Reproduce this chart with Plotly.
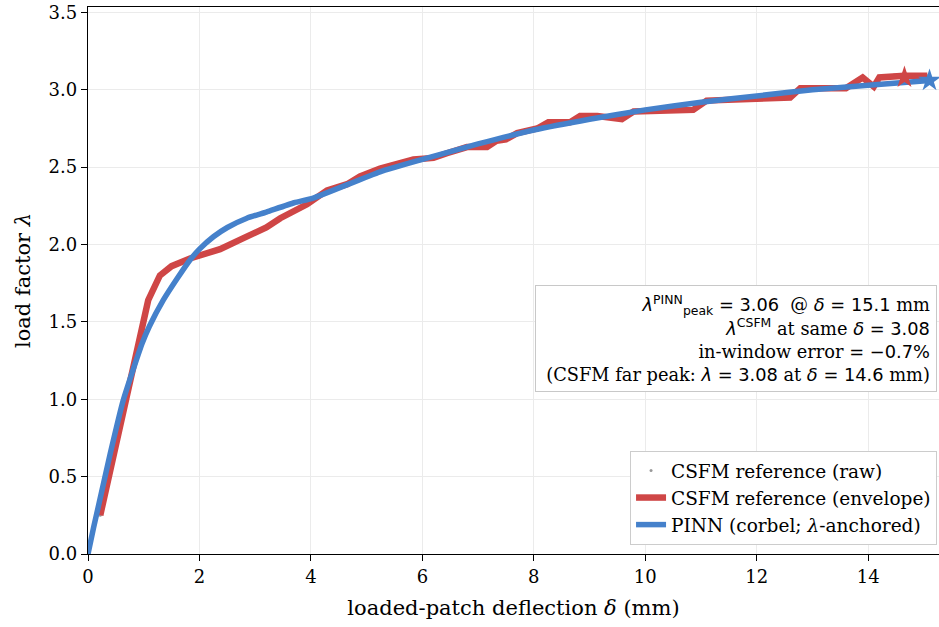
import plotly.graph_objects as go

# CSFM reference envelope (deflection mm, load factor)
csfm_x = [0.22, 0.75, 1.08, 1.29, 1.5, 1.83, 2.37, 2.78, 3.2, 3.45, 3.93, 4.29, 4.65, 4.88, 5.24,
          5.84, 6.2, 6.44, 6.68, 6.8, 7.16, 7.33, 7.5, 7.7, 8.06, 8.26, 8.65, 8.83, 9.14, 9.58,
          9.79, 10.86, 11.1, 12.6, 12.78, 13.6, 13.9, 14.1, 14.2, 14.5, 14.65, 15.06]
csfm_y = [0.25, 1.08, 1.64, 1.80, 1.86, 1.91, 1.97, 2.04, 2.11, 2.17, 2.26, 2.35, 2.39, 2.44, 2.49,
          2.55, 2.56, 2.59, 2.61, 2.63, 2.63, 2.67, 2.68, 2.72, 2.75, 2.79, 2.79, 2.83, 2.83, 2.81,
          2.86, 2.87, 2.93, 2.95, 3.01, 3.01, 3.08, 3.02, 3.08, 3.09, 3.09, 3.09]

# PINN curve
pinn_x = [0, 0.1, 0.2, 0.4, 0.63, 0.97, 1.1, 1.35, 1.6, 1.83, 2.0, 2.25, 2.5, 2.85, 3.2, 3.7,
          4.04, 5.24, 6, 7, 8, 9, 10, 11, 12, 13, 14, 15.1]
pinn_y = [0, 0.17, 0.33, 0.65, 0.99, 1.36, 1.47, 1.64, 1.78, 1.90, 1.97, 2.05, 2.11, 2.17, 2.21,
          2.27, 2.30, 2.47, 2.55, 2.65, 2.74, 2.81, 2.87, 2.92, 2.96, 3.0, 3.03, 3.06]

# peaks
csfm_peak = (14.65, 3.08)
pinn_peak = (15.1, 3.06)

RED = "#cf4646"
BLUE = "#4581cb"
SERIF = "DejaVu Serif"
SANS = "DejaVu Sans"

fig = go.Figure()
fig.add_trace(go.Scatter(x=csfm_x, y=csfm_y, mode="markers", name="CSFM reference (raw)",
                         marker=dict(color="#999999", size=3)))
fig.add_trace(go.Scatter(x=csfm_x, y=csfm_y, mode="lines", name="CSFM reference (envelope)",
                         line=dict(color=RED, width=6.5)))
fig.add_trace(go.Scatter(x=pinn_x, y=pinn_y, mode="lines", name="PINN (corbel; <i>λ</i>-anchored)",
                         line=dict(color=BLUE, width=5.5, shape="spline", smoothing=0.5)))
fig.add_trace(go.Scatter(x=[csfm_peak[0]], y=[csfm_peak[1]], mode="markers", showlegend=False,
                         marker=dict(symbol="star", size=17, color=RED)))
fig.add_trace(go.Scatter(x=[pinn_peak[0]], y=[pinn_peak[1]], mode="markers", showlegend=False,
                         marker=dict(symbol="star", size=17, color=BLUE)))

def m(s):
    return f"<span style='font-family:{SANS}'>{s}</span>"

ann = (m("<i>λ</i><sup>PINN</sup><sub>peak</sub> = 3.06") + "  @ " + m("<i>δ</i> = 15.1") + " mm<br>"
       + m("<i>λ</i><sup>CSFM</sup>") + " at same " + m("<i>δ</i>") + " " + m("= 3.08") + "<br>"
       + "in-window error " + m("= −0.7%") + "<br>"
       + "(CSFM far peak: " + m("<i>λ</i> = 3.08") + " at " + m("<i>δ</i> = 14.6") + " mm)")

fig.add_annotation(xref="paper", yref="paper", x=0.9977, y=0.4918, xanchor="right", yanchor="top",
                   text=ann, showarrow=False, align="right", width=388,
                   font=dict(family=SERIF, size=17.8, color="black"),
                   bgcolor="white", bordercolor="#c8c8c8", borderwidth=1, borderpad=6)

axis_common = dict(linecolor="black", linewidth=1.3, automargin=False,
                   ticks="outside", ticklen=6, tickwidth=1.3, tickcolor="black",
                   showgrid=True, gridcolor="#ebebeb", gridwidth=1, zeroline=False,
                   tickfont=dict(family=SERIF, size=18, color="black"))

fig.update_xaxes(range=[0, 15.27], dtick=2, tick0=0, showline=True, mirror=True,
                 title=dict(text="loaded-patch deflection <i>δ</i> (mm)",
                            font=dict(family=SERIF, size=21, color="black"), standoff=14),
                 **axis_common)
fig.update_yaxes(range=[0, 3.535], dtick=0.5, tick0=0, tickformat=".1f", showline=True, mirror=False,
                 title=dict(text="load factor <i>λ</i>",
                            font=dict(family=SERIF, size=21, color="black"), standoff=12),
                 **axis_common)

fig.update_layout(width=939, height=627, plot_bgcolor="white", paper_bgcolor="white",
                  margin=dict(l=88, r=0, t=7, b=73),
                  legend=dict(x=0.9977, y=0.0165, xanchor="right", yanchor="bottom",
                              bgcolor="white", bordercolor="#cccccc", borderwidth=1,
                              font=dict(family=SERIF, size=18.5, color="black"),
                              tracegroupgap=2))

fig.write_html("out.html", config={"displayModeBar": False},
               post_script="document.body.style.margin='0';")
